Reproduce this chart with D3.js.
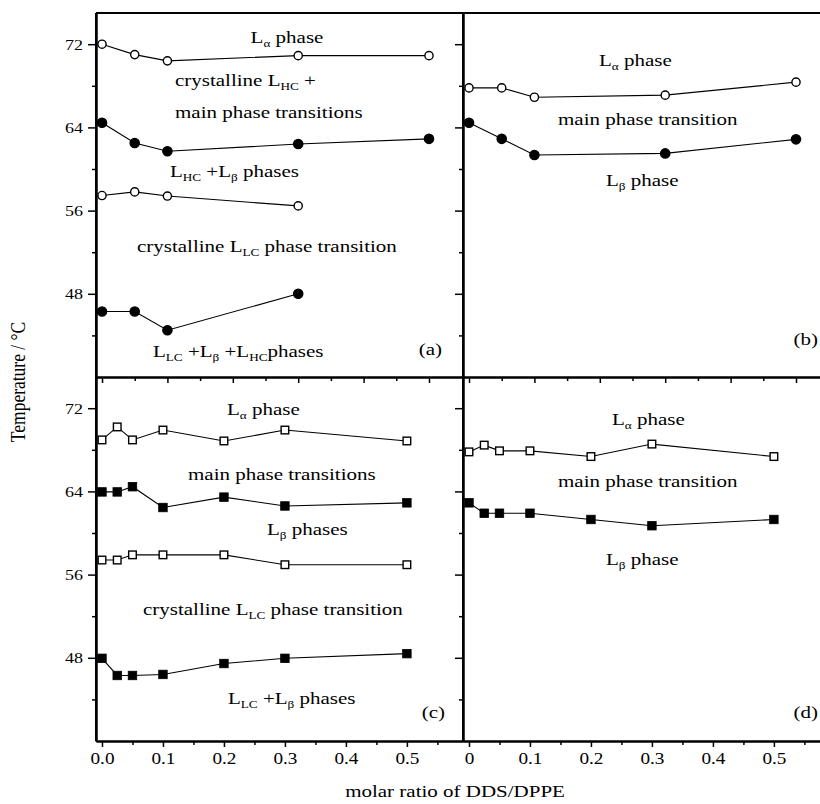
<!DOCTYPE html>
<html><head><meta charset="utf-8">
<script src="https://cdn.jsdelivr.net/npm/d3@7"></script>
<style>html,body{margin:0;padding:0;background:#fff;} svg{display:block;}
svg text{font-family:"Liberation Serif","Times New Roman",Tinos,"DejaVu Serif",serif;}</style>
</head><body><svg id="chart" width="820" height="804"></svg>
<script>
// ---------- data ----------
const xRatioAB = [0, 0.05, 0.1, 0.3, 0.5];
const xRatioCD = [0, 0.025, 0.05, 0.1, 0.2, 0.3, 0.5];

const aOpenUpper  = [72.0, 71.0, 70.4, 70.9, 70.9];
const aFilledUpper = [64.45, 62.5, 61.7, 62.4, 62.9];
const aOpenLower  = [57.45, 57.8, 57.4, 56.45];
const aFilledLower = [46.3, 46.3, 44.5, 48.0];

const bOpen   = [67.8, 67.8, 66.9, 67.1, 68.35];
const bFilled = [64.45, 62.9, 61.35, 61.5, 62.85];

const cOpenUpper   = [68.95, 70.2, 68.95, 69.9, 68.85, 69.9, 68.85];
const cFilledUpper = [63.95, 63.95, 64.45, 62.45, 63.45, 62.6, 62.9];
const cOpenLower   = [57.4, 57.4, 57.9, 57.9, 57.9, 56.95, 56.95];
const cFilledLower = [47.95, 46.3, 46.3, 46.4, 47.45, 47.95, 48.4];

const dOpen   = [67.8, 68.45, 67.9, 67.9, 67.35, 68.55, 67.35];
const dFilled = [62.9, 61.9, 61.9, 61.9, 61.3, 60.7, 61.3];

const yMajorTicks = [48, 56, 64, 72];
const yMinorTicks = [44, 52, 60, 68];
const xMajorTicks = [0, 0.1, 0.2, 0.3, 0.4, 0.5];
const xMinorTicksAB = [0.05, 0.15, 0.25, 0.35, 0.45];
const xMinorTicksCD = [0.05, 0.15, 0.25, 0.35, 0.45, 0.55];
const xTickLabelsC = ["0.0", "0.1", "0.2", "0.3", "0.4", "0.5"];
const xTickLabelsD = ["0", "0.1", "0.2", "0.3", "0.4", "0.5"];

const yTitle = "Temperature / \u00B0C";
const xTitle = "molar ratio of DDS/DPPE";

// ---------- layout ----------
const svg = d3.select("#chart");
const FONT = '"Liberation Serif","Times New Roman",Tinos,"DejaVu Serif",serif';
const SX = 1.2;
const L = 96, M = 463, R = 830, T = 13, MID = 377, B = 741;

const yTop = d3.scaleLinear().domain([40, 75]).range([MID, T]);
const yBot = d3.scaleLinear().domain([40, 75]).range([B, MID]);
const xA = d3.scaleLinear().domain([-0.0092, 0.552]).range([L, M]);
const xB = d3.scaleLinear().domain([-0.0092, 0.552]).range([M, R]);
const xC = d3.scaleLinear().domain([-0.0098, 0.592]).range([L, M]);
const xD = d3.scaleLinear().domain([-0.0098, 0.592]).range([M, R]);

function styleAxis(g, fontSize) {
  g.attr("font-family", null);
  g.select(".domain").attr("stroke", "#000").attr("stroke-width", 2);
  g.selectAll(".tick line").attr("stroke", "#000").attr("stroke-width", 1.5);
  g.selectAll(".tick text").style("font-family", FONT).attr("font-size", fontSize).attr("fill", "#000");
}

// Y axes
function yAxis(scale, x, labels) {
  const gMaj = svg.append("g").attr("transform", `translate(${x},0)`)
    .call(d3.axisLeft(scale).tickValues(yMajorTicks).tickSize(8).tickSizeOuter(0).tickPadding(5)
      .tickFormat(labels ? d3.format("d") : ""));
  styleAxis(gMaj, 15);
  gMaj.selectAll(".tick text").attr("x", -13 / SX).attr("transform", `scale(${SX},1)`);
  const gMin = svg.append("g").attr("transform", `translate(${x},0)`)
    .call(d3.axisLeft(scale).tickValues(yMinorTicks).tickSize(4).tickSizeOuter(0).tickFormat(""));
  styleAxis(gMin, 15);
}
yAxis(yTop, L, true);
yAxis(yBot, L, true);
yAxis(yTop, M, false);
yAxis(yBot, M, false);

// X axes
function xAxis(scale, y, minor, labels) {
  const gMaj = svg.append("g").attr("transform", `translate(0,${y})`)
    .call(d3.axisBottom(scale).tickValues(xMajorTicks).tickSize(6).tickSizeOuter(0).tickPadding(6)
      .tickFormat(labels ? ((d, i) => labels[i]) : ""));
  styleAxis(gMaj, 16);
  gMaj.selectAll(".tick text").attr("transform", `scale(${SX},1)`);
  const gMin = svg.append("g").attr("transform", `translate(0,${y})`)
    .call(d3.axisBottom(scale).tickValues(minor).tickSize(4).tickSizeOuter(0).tickFormat(""));
  styleAxis(gMin, 16);
}
xAxis(xA, MID, xMinorTicksAB, null);
xAxis(xB, MID, xMinorTicksCD, null);
xAxis(xC, B, xMinorTicksCD, xTickLabelsC);
xAxis(xD, B, xMinorTicksCD, xTickLabelsD);

// frame lines
const frame = svg.append("g").attr("stroke", "#000").attr("stroke-width", 2);
frame.append("line").attr("x1", L).attr("x2", 820).attr("y1", T).attr("y2", T);
frame.append("line").attr("x1", L).attr("x2", L).attr("y1", T).attr("y2", B);
frame.append("line").attr("x1", M).attr("x2", M).attr("y1", T).attr("y2", B);

// ---------- series ----------
function drawSeries(xs, ys, xScale, yScale, shape, filled) {
  const pts = ys.map((v, i) => [xScale(xs[i]), yScale(v)]);
  svg.append("path").attr("d", d3.line()(pts))
    .attr("fill", "none").attr("stroke", "#000").attr("stroke-width", 1.1);
  const g = svg.append("g");
  pts.forEach(p => {
    if (shape === "circle") {
      g.append("circle").attr("cx", p[0]).attr("cy", p[1])
        .attr("r", filled ? 4.6 : 4.1)
        .attr("fill", filled ? "#000" : "#fff").attr("stroke", "#000").attr("stroke-width", 1.4);
    } else {
      const s = filled ? 8.5 : 7.6;
      g.append("rect").attr("x", p[0] - s / 2).attr("y", p[1] - s / 2).attr("width", s).attr("height", s)
        .attr("fill", filled ? "#000" : "#fff").attr("stroke", "#000").attr("stroke-width", filled ? 0.8 : 1.4);
    }
  });
}
drawSeries(xRatioAB, aOpenUpper, xA, yTop, "circle", false);
drawSeries(xRatioAB, aFilledUpper, xA, yTop, "circle", true);
drawSeries(xRatioAB.slice(0, 4), aOpenLower, xA, yTop, "circle", false);
drawSeries(xRatioAB.slice(0, 4), aFilledLower, xA, yTop, "circle", true);
drawSeries(xRatioAB, bOpen, xB, yTop, "circle", false);
drawSeries(xRatioAB, bFilled, xB, yTop, "circle", true);
drawSeries(xRatioCD, cOpenUpper, xC, yBot, "square", false);
drawSeries(xRatioCD, cFilledUpper, xC, yBot, "square", true);
drawSeries(xRatioCD, cOpenLower, xC, yBot, "square", false);
drawSeries(xRatioCD, cFilledLower, xC, yBot, "square", true);
drawSeries(xRatioCD, dOpen, xD, yBot, "square", false);
drawSeries(xRatioCD, dFilled, xD, yBot, "square", true);

// ---------- annotations ----------
function addText(x, y, parts, anchor, size, rotate) {
  const g = svg.append("g").attr("transform",
    rotate ? `translate(${x},${y}) rotate(-90) scale(1,${SX})` : `translate(${x},${y}) scale(${SX},1)`);
  const t = g.append("text").attr("x", 0).attr("y", 0).attr("text-anchor", anchor || "start")
    .style("font-family", FONT).attr("font-size", size || 17.5).attr("fill", "#000");
  let shifted = false;
  parts.forEach(p => {
    const isSub = Array.isArray(p);
    const txt = isSub ? p[0] : p;
    const ts = t.append("tspan").text(txt);
    if (isSub) {
      ts.attr("font-size", 11).attr("dy", shifted ? 0 : 4);
      shifted = true;
    } else if (shifted) {
      ts.attr("dy", -4);
      shifted = false;
    }
  });
}
const sub = s => [s];
// (a)
addText(287, 43, ["L", sub("\u03B1"), " phase"], "middle");
addText(175, 86, ["crystalline L", sub("HC"), " +"], "start");
addText(175, 118, ["main phase transitions"], "start");
addText(170, 177, ["L", sub("HC"), " +L", sub("\u03B2"), " phases"], "start");
addText(137, 252, ["crystalline L", sub("LC"), " phase transition"], "start");
addText(153, 357, ["L", sub("LC"), " +L", sub("\u03B2"), " +L", sub("HC"), "phases"], "start");
addText(442, 355, ["(a)"], "end");
// (b)
addText(599, 66, ["L", sub("\u03B1"), " phase"], "start");
addText(558, 125, ["main phase transition"], "start");
addText(606, 186, ["L", sub("\u03B2"), " phase"], "start");
addText(818, 345, ["(b)"], "end");
// (c)
addText(227, 415, ["L", sub("\u03B1"), " phase"], "start");
addText(188, 480, ["main phase transitions"], "start");
addText(267, 535, ["L", sub("\u03B2"), " phases"], "start");
addText(143, 615, ["crystalline L", sub("LC"), " phase transition"], "start");
addText(228, 704, ["L", sub("LC"), " +L", sub("\u03B2"), " phases"], "start");
addText(445, 718, ["(c)"], "end");
// (d)
addText(612, 425, ["L", sub("\u03B1"), " phase"], "start");
addText(558, 487, ["main phase transition"], "start");
addText(606, 565, ["L", sub("\u03B2"), " phase"], "start");
addText(818, 718, ["(d)"], "end");

// axis titles
addText(455, 797, [xTitle], "middle");
addText(25, 382, [yTitle], "middle", 17.5, true);
</script></body></html>
